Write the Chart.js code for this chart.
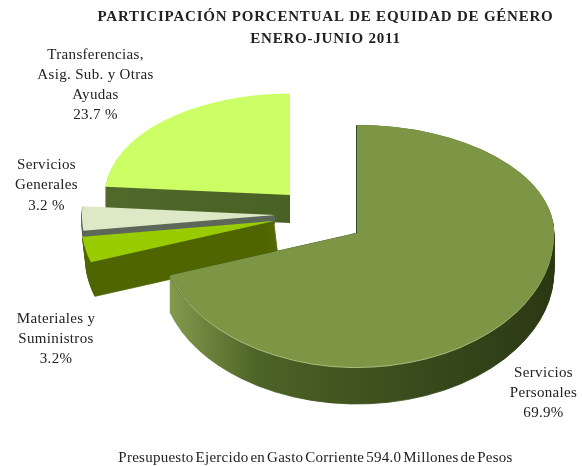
<!DOCTYPE html>
<html lang="es">
<head>
    <meta charset="UTF-8">
    <title>Equidad de Género</title>
    <style>
        body { margin: 0; background: #fff; }
        canvas { display: block; }
    </style>
</head>
<body>
    <canvas id="grafico" width="582" height="466"></canvas>

    <script src="https://cdn.jsdelivr.net/npm/chart.js@4"></script>
    <script>
        // Datos
        const categorias = ['Servicios Personales', 'Materiales y Suministros', 'Servicios Generales', 'Transferencias, Asig. Sub. y Otras Ayudas'];
        const valores = [69.9, 3.2, 3.2, 23.7];
        const etiquetas = [
            ['Servicios', 'Personales', '69.9%'],
            ['Materiales y', 'Suministros', '3.2%'],
            ['Servicios', 'Generales', '3.2 %'],
            ['Transferencias,', 'Asig. Sub. y Otras', 'Ayudas', '23.7 %']
        ];
        const titulo = ['PARTICIPACIÓN PORCENTUAL DE EQUIDAD DE GÉNERO', 'ENERO-JUNIO 2011'];
        const pie = 'Presupuesto Ejercido en Gasto Corriente 594.0 Millones de Pesos';

        // Colores y aspecto
        const coloresCara = ['#7d9645', '#99cc00', '#dde8c6', '#ccff66'];
        const coloresLado = [
            ['#8aa050', '#4c6327', '#40541f', '#35461a', '#2b3913'],
            ['#4f6600', '#4f6600'],
            ['#5c6659', '#5c6659'],
            ['#526b2a', '#465c24']
        ];
        const desplazaX = [0, -83, -82, -67];
        const desplazaY = [0, -12, -18, -38];
        const profundidad = [37, 34, 8, 28];
        const inclina = [0, 0.12, 0, 0];
        const bordeLado = [1, 1, 1, 0];
        const escala = [1, 0.98, 0.98, 0.94];
        const radio = 197;
        const arribaY = 108 / radio;   // la mitad de atrás se ve más aplastada
        const abajoY = 134 / radio;

        function dibujaArco(ctx, arc, x, y, s, fill, borde) {
            const copia = Object.create(arc);
            copia.options = { ...arc.options, backgroundColor: fill, borderColor: fill, offset: 0, borderWidth: borde };
            [[y - 400, 400.5, arribaY], [y, 400, abajoY]].forEach(([top, alto, k]) => {
                ctx.save();
                ctx.beginPath();
                ctx.rect(0, top, 582, alto);
                ctx.clip();
                ctx.translate(x, y);
                ctx.scale(s, s * k);
                ctx.translate(-arc.x, -arc.y);
                copia.draw(ctx);
                ctx.restore();
            });
        }

        const pastel3d = {
            id: 'pastel3d',
            beforeDatasetsDraw(chart) {
                const ctx = chart.ctx;
                const arcos = chart.getDatasetMeta(0).data;
                for (let i = arcos.length - 1; i >= 0; i--) {
                    const arc = arcos[i];
                    const x = arc.x + desplazaX[i];
                    const y = arc.y + desplazaY[i];
                    const grad = ctx.createLinearGradient(x - radio, 0, x + radio, 0);
                    coloresLado[i].forEach((c, n) => grad.addColorStop(n / (coloresLado[i].length - 1), c));
                    for (let d = profundidad[i]; d > 0; d--) {
                        dibujaArco(ctx, arc, x + d * inclina[i], y + d, escala[i], grad, bordeLado[i]);
                    }
                    if (i === 0) {
                        // filo oscuro del corte y borde claro de la cara
                        dibujaArco(ctx, arc, x - 1, y, 1, '#3c4a20', 0);
                        dibujaArco(ctx, arc, x, y + 1, 1, '#a9bb7c', 0);
                    }
                    dibujaArco(ctx, arc, x, y, escala[i], coloresCara[i], 0);
                }
                return false;
            },
            afterDraw(chart) {
                const ctx = chart.ctx;
                ctx.save();
                ctx.fillStyle = '#222';
                ctx.textAlign = 'center';
                ctx.textBaseline = 'middle';

                ctx.font = 'bold 15px "Liberation Serif"';
                ctx.letterSpacing = '0.78px';
                ctx.fillText(titulo[0], 325.5, 17.5);
                ctx.fillText(titulo[1], 325.5, 39);

                ctx.font = '15px "Liberation Serif"';
                ctx.letterSpacing = '0.33px';
                const posX = [543.5, 56, 46.5, 95.5];
                const posY = [373, 319, 165, 55];
                const paso = [20, 20, 20.5, 20];
                etiquetas.forEach((lineas, i) => {
                    lineas.forEach((t, n) => ctx.fillText(t, posX[i], posY[i] + n * paso[i]));
                });

                ctx.letterSpacing = '0.25px';
                ctx.wordSpacing = '-2px';
                ctx.fillText(pie, 315.5, 458);
                ctx.restore();
            }
        };

        new Chart(document.getElementById('grafico'), {
            type: 'pie',
            data: {
                labels: categorias,
                datasets: [{ data: valores, backgroundColor: coloresCara, borderWidth: 0 }]
            },
            options: {
                responsive: false,
                animation: false,
                radius: radio,
                layout: { padding: { left: 132 } },
                plugins: { legend: { display: false }, tooltip: { enabled: false } }
            },
            plugins: [pastel3d]
        });
    </script>
</body>
</html>
